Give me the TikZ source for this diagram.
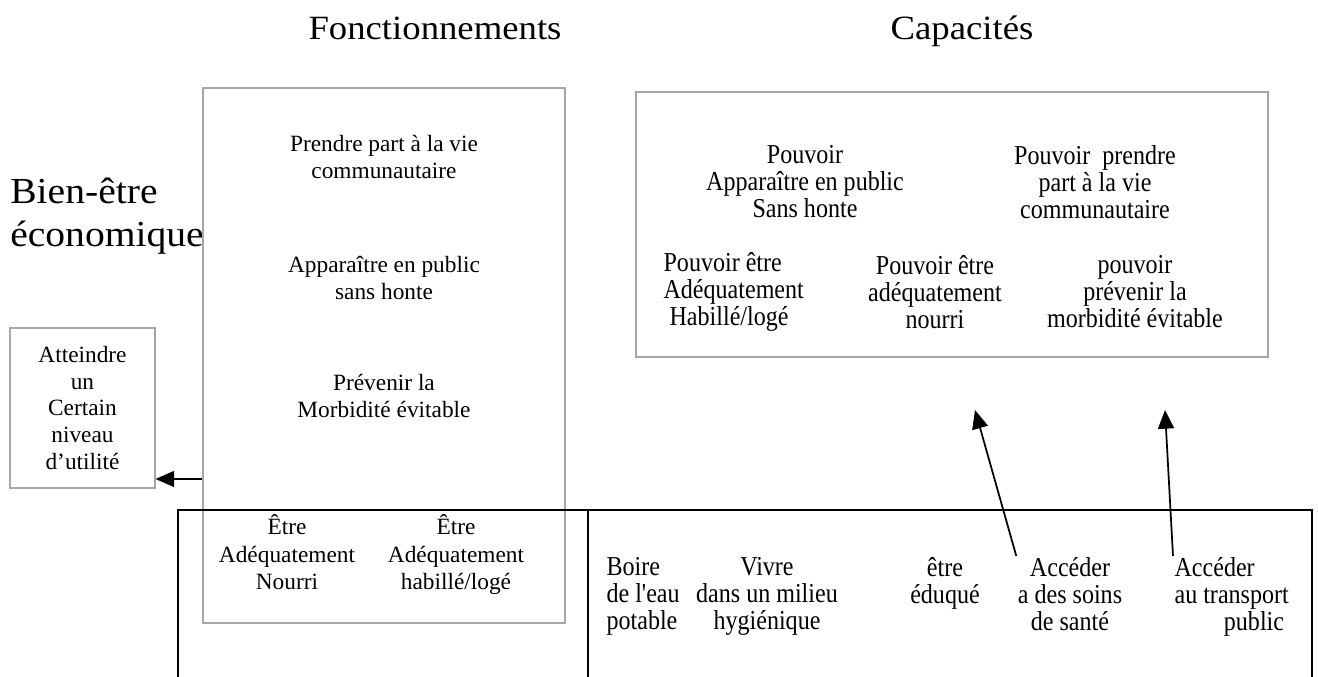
\documentclass[tikz,border=0pt]{standalone}
\usepackage{fontspec}
\setmainfont{Liberation Serif}
\newfontfamily\condfont{Liberation Serif}[FakeStretch=0.88]
\newfontfamily\headfont{Liberation Serif}[FakeStretch=1.08]
\usetikzlibrary{arrows.meta,fit}
\definecolor{boxgray}{rgb}{0.65,0.65,0.65}

\begin{document}
\begin{tikzpicture}[x=0.75pt,y=-0.75pt,
    graybox/.style={draw=boxgray, line width=0.8pt, inner sep=0pt},
    bodytext/.style={align=center, inner sep=1pt, font=\fontsize{17.5}{20.6}\selectfont},
    condtext/.style={align=center, inner sep=1pt, font=\condfont\fontsize{20.5}{20.3}\selectfont},
    headtext/.style={inner sep=0pt, anchor=base, font=\headfont\fontsize{25.5}{31.5}\selectfont},
    bigarrow/.style={-{Triangle[length=14pt,width=12pt]}, line width=1.3pt}]
    \useasboundingbox (0,0) rectangle (1318,677);

    % titles
    \node[headtext] (fonctitle) at (435,40) {Fonctionnements};
    \node[headtext] (captitle) at (962,40) {Capacités};
    \node[headtext, anchor=west, align=left, font=\headfont\fontsize{27.5}{32}\selectfont] (bienetre) at (10,216) {Bien-être\\économique};

    % left column
    \node[graybox, fit={(10,328) (155,488)}] (utilite) {};
    \node[bodytext, font=\fontsize{17.5}{19.9}\selectfont] (utilitetxt) at (utilite.center) {Atteindre\\un\\Certain\\niveau\\d'utilité};

    \node[graybox, fill=white, fit={(203,88) (565,623)}] (fonct) {};
    \node[bodytext] (vie) at (384,157) {Prendre part à la vie\\communautaire};
    \node[bodytext] (public) at (384,278) {Apparaître en public\\sans honte};
    \node[bodytext] (morbid) at (384,396) {Prévenir la\\Morbidité évitable};
    \node[bodytext, anchor=north] (nourri) at (287,513) {Être\\Adéquatement\\Nourri};
    \node[bodytext, anchor=north] (habille) at (456,513) {Être\\Adéquatement\\habillé/logé};

    % capabilities
    \node[graybox, fit={(636,92) (1268,357)}] (capa) {};
    \node[condtext] (cappublic) at (805,182) {Pouvoir\\Apparaître en public\\Sans honte};
    \node[condtext] (capvie) at (1095,182) {Pouvoir~~prendre\\part à la vie\\communautaire};
    \node[condtext, align=left, anchor=west] (caphabille) at (662,292) {Pouvoir être\\Adéquatement\\~Habillé/logé};
    \node[condtext] (capnourri) at (935,292) {Pouvoir être\\adéquatement\\nourri};
    \node[condtext] (capmorbid) at (1135,292) {pouvoir\\prévenir la\\morbidité évitable};

    % resources
    \draw[line width=1pt] (178,677) -- (178,510) -- (1312,510) -- (1312,677);
    \draw[line width=1pt] (588,510) -- (588,677);
    \node[condtext, align=left, anchor=north west] (eau) at (605,556) {Boire\\de l'eau\\potable};
    \node[condtext, anchor=north] (milieu) at (767,556) {Vivre\\dans un milieu\\hygiénique};
    \node[condtext, anchor=north] (eduque) at (945,556) {être\\éduqué};
    \node[condtext, anchor=north] (soins) at (1070,556) {Accéder\\a des soins\\de santé};
    \node[condtext, align=left, anchor=north west] (transport) at (1173,556) {Accéder\\au transport\\\hspace*{37pt}public};

    \coordinate (soinstip) at (975,410);
    \coordinate (transtip) at (1165,410);
    \coordinate (link) at (fonct.west |- 0,479);
    \draw[bigarrow] (soins.north west) -- (soinstip);
    \draw[bigarrow] (transport.north west) -- (transtip);
    \draw[bigarrow] (link) -- (link -| utilite.east);
\end{tikzpicture}
\end{document}
